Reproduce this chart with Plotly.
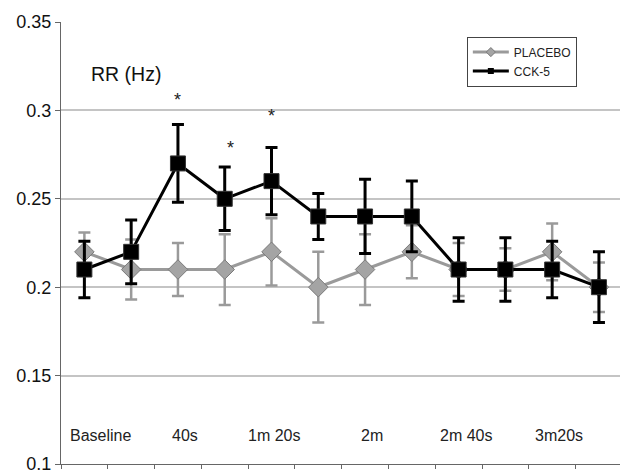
import plotly.graph_objects as go

time_points = ["Baseline", "20s", "40s", "1m", "1m 20s", "1m 40s", "2m", "2m 20s",
               "2m 40s", "3m", "3m20s", "3m 40s"]
placebo = [0.22, 0.21, 0.21, 0.21, 0.22, 0.20, 0.21, 0.22, 0.21, 0.21, 0.22, 0.20]
placebo_err = [0.011, 0.017, 0.015, 0.020, 0.019, 0.020, 0.020, 0.015, 0.015, 0.012, 0.016, 0.014]
cck5 = [0.21, 0.22, 0.27, 0.25, 0.26, 0.24, 0.24, 0.24, 0.21, 0.21, 0.21, 0.20]
cck5_err = [0.016, 0.018, 0.022, 0.018, 0.019, 0.013, 0.021, 0.020, 0.018, 0.018, 0.016, 0.020]
sig_points = [2, 3, 4]
sig_heights = [0.306, 0.279, 0.297]
axis_labels = ["Baseline", "40s", "1m 20s", "2m", "2m 40s", "3m20s"]
axis_label_pos = [0.35, 2.15, 4.05, 6.15, 8.15, 10.15]

x = list(range(len(time_points)))
FONT = "Liberation Sans, Arial, sans-serif"
GRAY = "#9a9a9a"

fig = go.Figure()
fig.add_trace(go.Scatter(
    x=x, y=placebo, name="PLACEBO", mode="lines+markers", showlegend=False,
    line=dict(color=GRAY, width=3),
    marker=dict(symbol="diamond", size=15, color="#a4a4a4",
                line=dict(color="#7a7a7a", width=1)),
    error_y=dict(type="data", array=placebo_err, visible=True,
                 color=GRAY, thickness=2.5, width=6),
))
fig.add_trace(go.Scatter(
    x=x, y=cck5, name="CCK-5", mode="lines+markers", showlegend=False,
    line=dict(color="#000000", width=3),
    marker=dict(symbol="square", size=15, color="#000000",
                line=dict(color="#333333", width=1)),
    error_y=dict(type="data", array=cck5_err, visible=True,
                 color="#000000", thickness=3, width=6),
))
# legend entries (small markers as in the original legend)
fig.add_trace(go.Scatter(
    x=[None], y=[None], name="PLACEBO", mode="lines+markers",
    line=dict(color=GRAY, width=3),
    marker=dict(symbol="diamond", size=7, color="#a4a4a4",
                line=dict(color="#7a7a7a", width=1)),
))
fig.add_trace(go.Scatter(
    x=[None], y=[None], name="CCK-5", mode="lines+markers",
    line=dict(color="#000000", width=3),
    marker=dict(symbol="square", size=6, color="#000000"),
))

for xi, yi in zip(sig_points, sig_heights):
    fig.add_annotation(x=xi + (0.12 if xi == 3 else 0), y=yi, text="*", showarrow=False,
                       font=dict(family=FONT, size=18, color="#222"))

for lab, pos in zip(axis_labels, axis_label_pos):
    fig.add_annotation(x=pos, y=0.116, text=lab, showarrow=False,
                       font=dict(family=FONT, size=16, color="#222"))

fig.add_annotation(x=0.05, xref="paper", y=0.3205, text="RR (Hz)", showarrow=False,
                   xanchor="left", font=dict(family=FONT, size=19.5, color="#111"))

fig.update_layout(
    width=620, height=474,
    margin=dict(l=61, r=0, t=22, b=10),
    paper_bgcolor="white", plot_bgcolor="white",
    font=dict(family=FONT, size=14, color="#111"),
    showlegend=True,
    legend=dict(x=0.726, y=0.967, xanchor="left", yanchor="top",
                bgcolor="white", bordercolor="#444", borderwidth=1,
                font=dict(family=FONT, size=12, color="#222"),
                tracegroupgap=0, itemwidth=36),
    xaxis=dict(range=[-0.5, 11.45], showgrid=False, zeroline=False,
               tickmode="array", tickvals=[i - 0.5 for i in range(13)],
               ticktext=[""] * 13, ticks="outside", ticklen=4, tickcolor="#666",
               showline=True, linecolor="#666", linewidth=1),
    yaxis=dict(range=[0.1, 0.35],
               tickvals=[0.1, 0.15, 0.2, 0.25, 0.3, 0.35],
               ticktext=["0.1", "0.15", "0.2", "0.25", "0.3", "0.35"],
               ticklabeloverflow="allow",
               showgrid=True, gridcolor="#c4c4c4", gridwidth=1.5,
               zeroline=False, ticks="outside", ticklen=5, tickcolor="#666",
               showline=True, linecolor="#666", linewidth=1,
               tickfont=dict(family=FONT, size=18, color="#111")),
)

fig.write_html("out.html")
